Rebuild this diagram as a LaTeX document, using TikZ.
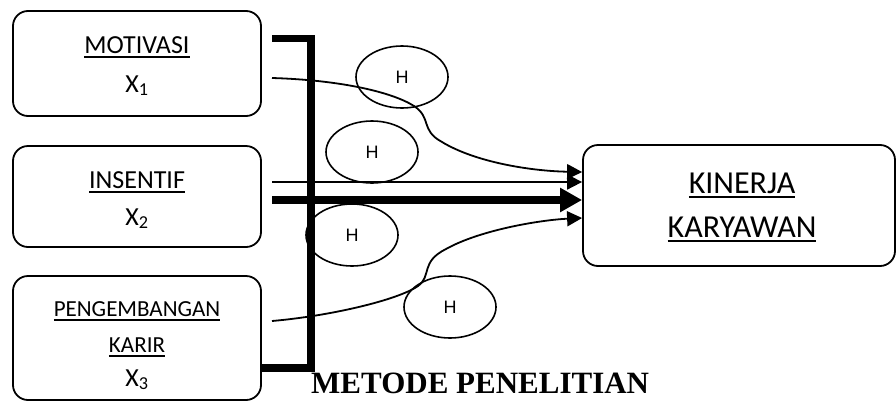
\documentclass[tikz,border=0pt]{standalone}
\usepackage{fontspec}
\setmainfont{Carlito}
\newfontfamily\titlefont{Liberation Serif}
\newfontfamily\hfont{Liberation Sans}
\usetikzlibrary{arrows.meta,shapes.geometric,calc}
\newcommand\myul[1]{\leavevmode\setbox0\hbox{#1}\rlap{\rule[-4.5pt]{\wd0}{1.8pt}}\box0}
\begin{document}
\begin{tikzpicture}[x=1pt,y=-1pt,
  box/.style={draw, line width=1.8pt, rounded corners=15pt, inner sep=0pt},
  hyp/.style={draw, ellipse, line width=1.6pt, minimum width=92pt, minimum height=62pt, inner sep=0pt, font=\hfont\fontsize{18}{20}\selectfont},
  lbl/.style={anchor=base, inner sep=0pt, font=\fontsize{26}{30}\selectfont},
  slbl/.style={anchor=base, inner sep=0pt, font=\fontsize{23}{27}\selectfont},
  klbl/.style={anchor=base, inner sep=0pt, font=\fontsize{32}{36}\selectfont},
  thinline/.style={line width=1.8pt},
  thickline/.style={line width=7.5pt, line join=miter},
  tip/.style={-{Triangle[length=15pt,width=15pt]}},
  bigtip/.style={-{Triangle[length=22pt,width=23pt]}},
]
\useasboundingbox (0,0) rectangle (896,402);
% boxes
\node[box, minimum width=248pt, minimum height=105pt] (b1) at (137,63.5) {};
\node[box, minimum width=248pt, minimum height=101pt] (b2) at (137,196.5) {};
\node[box, minimum width=248pt, minimum height=124pt] (b3) at (137,338) {};
\node[box, minimum width=312pt, minimum height=121pt] (k) at (739,205.5) {};
% labels
\node[lbl] (t1) at (137,53) {\myul{MOTIVASI}};
\node[lbl] (t1x) at (137,92) {X\textsubscript{1}};
\node[lbl] (t2) at (137,188) {\myul{INSENTIF}};
\node[lbl] (t2x) at (137,225) {X\textsubscript{2}};
\node[slbl] (t3) at (137,316) {\myul{PENGEMBANGAN}};
\node[slbl] (t3b) at (137,352) {\myul{KARIR}};
\node[lbl] (t3x) at (137,386) {X\textsubscript{3}};
\node[klbl] (tk1) at (742,193) {\myul{KINERJA}};
\node[klbl] (tk2) at (742,237) {\myul{KARYAWAN}};
% hypotheses
\node[hyp] (h1) at (402,77) {H};
\node[hyp] (h2) at (372,152) {H};
\node[hyp] (h3) at (352,235) {H};
\node[hyp] (h4) at (450,307) {H};
% bracket
\coordinate (bt) at (272,38.5);
\coordinate (bb) at (0,368);
\draw[thickline] (bt) -- (311,38.5) -- (311,368) -- (b3.east |- bb);
% connectors
\coordinate (c1) at (272,78);
\coordinate (e1) at ($(k.west)+(0,-33.5)$);
\draw[thinline,tip] (c1) .. controls (340,80) and (392,92) .. (414,106)
  .. controls (432,118) and (420,130) .. (442,142)
  .. controls (475,162) and (530,171) .. (e1);
\coordinate (c2) at (272,182);
\draw[thinline,tip] (c2) -- (c2 -| k.west);
\coordinate (c3) at (272,200);
\draw[line width=7.5pt,bigtip] (c3) -- (c3 -| k.west);
\coordinate (c4) at (272,321);
\coordinate (e4) at ($(k.west)+(0,12.5)$);
\draw[thinline,tip] (c4) .. controls (330,316) and (398,300) .. (418,286)
  .. controls (432,276) and (420,262) .. (446,249)
  .. controls (480,230) and (540,220) .. (e4);
% title
\node[anchor=base west, inner sep=0pt, font=\titlefont\bfseries\fontsize{31}{35}\selectfont] (title) at (311,393) {METODE PENELITIAN};
\end{tikzpicture}
\end{document}
